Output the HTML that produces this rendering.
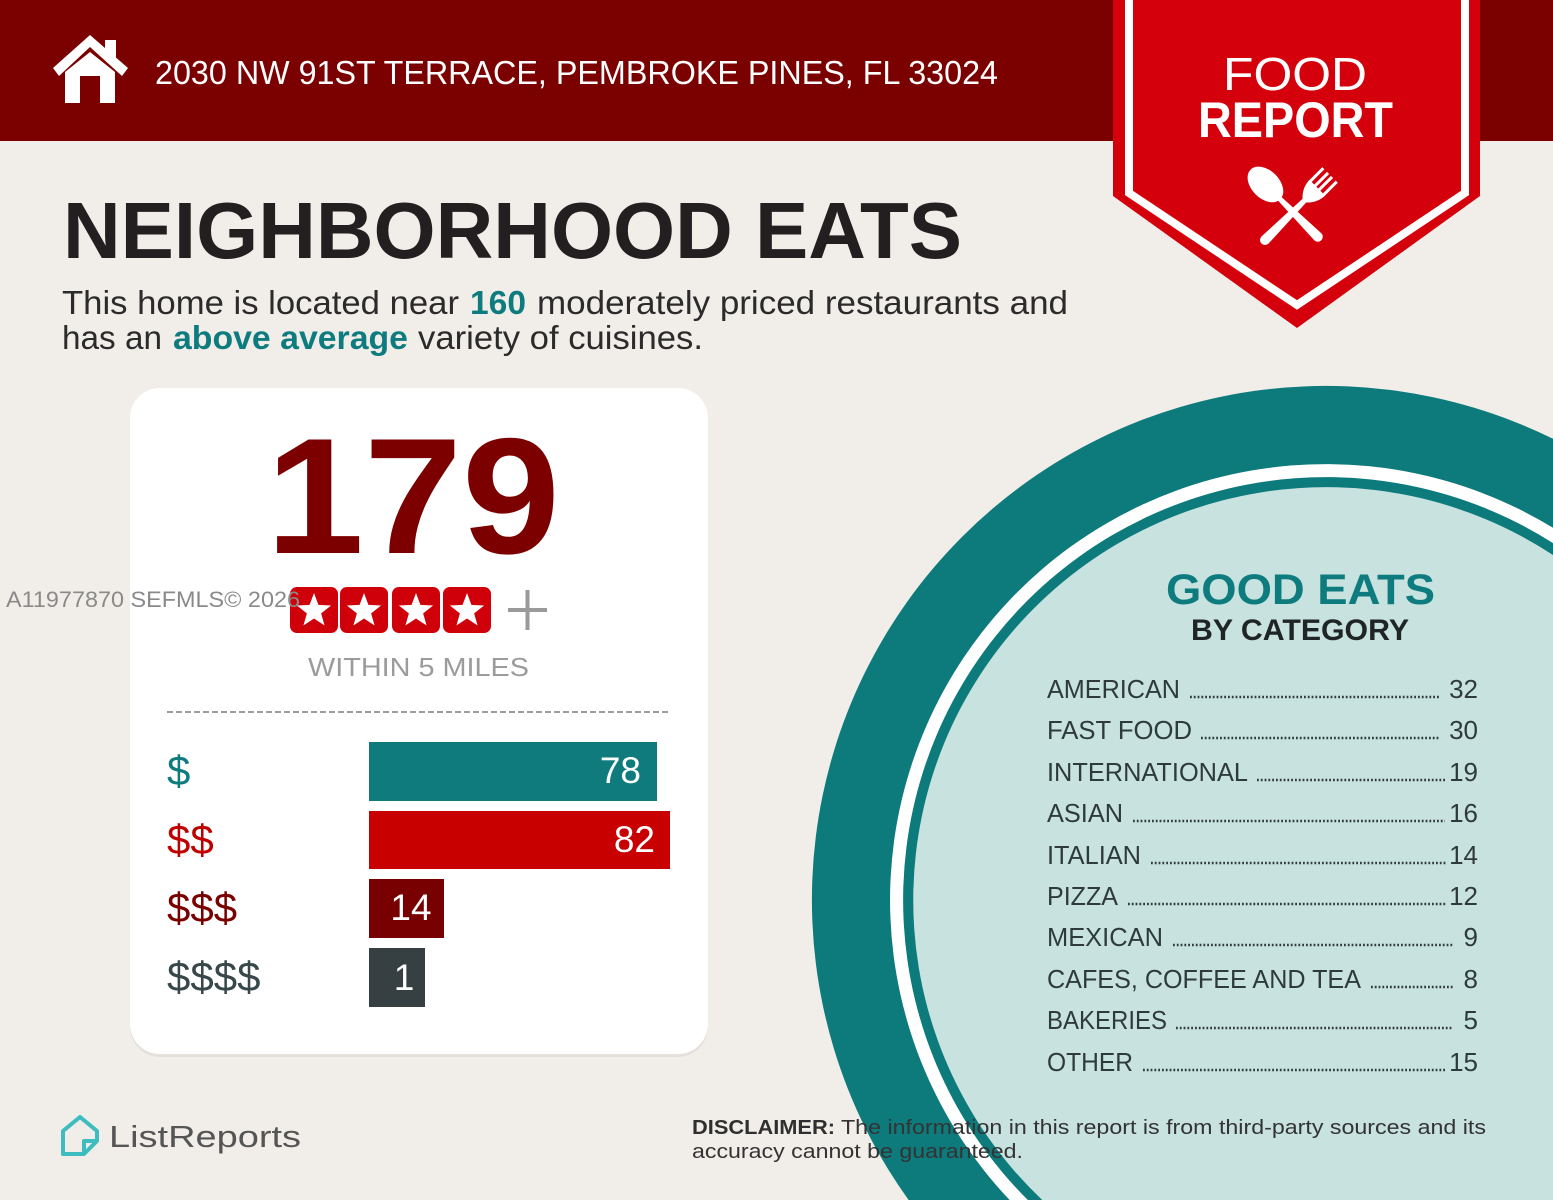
<!DOCTYPE html>
<html><head><meta charset="utf-8"><style>
html,body{margin:0;padding:0;background:#f1eeea;width:1553px;height:1200px;overflow:hidden;}
svg{display:block;}
text{font-family:"Liberation Sans",Arial,sans-serif;}
</style></head><body>
<svg width="1553" height="1200" viewBox="0 0 1553 1200" xmlns="http://www.w3.org/2000/svg">
<rect x="0" y="0" width="1553" height="1200" fill="#f1eeea"/>
<!-- header -->
<rect x="0" y="0" width="1553" height="141" fill="#7b0000"/>
<!-- house icon -->
<rect x="105" y="40" width="11" height="20" fill="#fff"/>
<polygon points="53,68 90,35 128,68 122,76 90,47 59,76" fill="#fff"/>
<path d="M65,72 L90,52 L115,72 L115,103 L100,103 L100,76 L80,76 L80,103 L65,103 Z" fill="#fff"/>
<text x="155" y="84" font-size="33" fill="#fff" textLength="843" lengthAdjust="spacingAndGlyphs">2030 NW 91ST TERRACE, PEMBROKE PINES, FL 33024</text>

<!-- badge -->
<polygon points="1113,0 1480,0 1480,196 1297,328 1113,196" fill="#d4000b"/>
<polyline points="1129,0 1129,193 1297,305 1465,193 1465,0" fill="none" stroke="#fff" stroke-width="8" stroke-linejoin="miter"/>
<text x="1223" y="90" font-size="46" fill="#fff" textLength="144" lengthAdjust="spacingAndGlyphs">FOOD</text>
<text x="1198" y="137" font-size="50" font-weight="bold" fill="#fff" textLength="195" lengthAdjust="spacingAndGlyphs">REPORT</text>
<!-- spoon -->
<g transform="translate(1281,200) rotate(-45)" fill="#fff">
  <ellipse cx="0" cy="-22" rx="14" ry="21"/>
  <path d="M-2.5,-2 L-5,52 A5,5 0 0 0 5,52 L2.5,-2 Z"/>
</g>
<!-- fork -->
<g transform="translate(1306,199) rotate(45)" fill="#fff">
  <path d="M-2.5,0 L-5,58 A5,5 0 0 0 5,58 L2.5,0 Z"/>
  <path d="M-3,2 Q-11,-6 -11,-16 L11,-16 Q11,-6 3,2 Z"/>
  <rect x="-11" y="-34" width="3" height="20"/>
  <rect x="-4.3" y="-34" width="3" height="20"/>
  <rect x="1.3" y="-34" width="3" height="20"/>
  <rect x="8" y="-34" width="3" height="20"/>
</g>

<!-- title -->
<text x="63" y="258" font-size="80" font-weight="bold" fill="#231f20" textLength="899" lengthAdjust="spacingAndGlyphs">NEIGHBORHOOD EATS</text>
<text x="62" y="314" font-size="33" fill="#2b2b2b" textLength="397" lengthAdjust="spacingAndGlyphs">This home is located near</text>
<text x="470" y="314" font-size="33" font-weight="bold" fill="#0e7c7e" textLength="56" lengthAdjust="spacingAndGlyphs">160</text>
<text x="537" y="314" font-size="33" fill="#2b2b2b" textLength="531" lengthAdjust="spacingAndGlyphs">moderately priced restaurants and</text>
<text x="62" y="349" font-size="33" fill="#2b2b2b" textLength="100" lengthAdjust="spacingAndGlyphs">has an</text>
<text x="173" y="349" font-size="33" font-weight="bold" fill="#0e7c7e" textLength="235" lengthAdjust="spacingAndGlyphs">above average</text>
<text x="418" y="349" font-size="33" fill="#2b2b2b" textLength="285" lengthAdjust="spacingAndGlyphs">variety of cuisines.</text>

<!-- card -->
<rect x="130" y="391" width="578" height="666" rx="30" fill="#e4e1dd"/>
<rect x="130" y="388" width="578" height="666" rx="30" fill="#ffffff"/>
<text x="266" y="553" font-size="165" font-weight="bold" fill="#7d0000" textLength="294" lengthAdjust="spacingAndGlyphs">179</text>

<!-- stars -->
<g fill="#d0000b">
  <rect x="290" y="587" width="48" height="46" rx="7"/>
  <rect x="340" y="587" width="48" height="46" rx="7"/>
  <rect x="392" y="587" width="48" height="46" rx="7"/>
  <rect x="443" y="587" width="48" height="46" rx="7"/>
</g>
<g fill="#fff">
  <polygon transform="translate(314,611)" points="0,-18 4.41,-6.07 17.12,-5.56 7.13,2.32 10.58,14.56 0,7.5 -10.58,14.56 -7.13,2.32 -17.12,-5.56 -4.41,-6.07"/>
  <polygon transform="translate(364,611)" points="0,-18 4.41,-6.07 17.12,-5.56 7.13,2.32 10.58,14.56 0,7.5 -10.58,14.56 -7.13,2.32 -17.12,-5.56 -4.41,-6.07"/>
  <polygon transform="translate(416,611)" points="0,-18 4.41,-6.07 17.12,-5.56 7.13,2.32 10.58,14.56 0,7.5 -10.58,14.56 -7.13,2.32 -17.12,-5.56 -4.41,-6.07"/>
  <polygon transform="translate(467,611)" points="0,-18 4.41,-6.07 17.12,-5.56 7.13,2.32 10.58,14.56 0,7.5 -10.58,14.56 -7.13,2.32 -17.12,-5.56 -4.41,-6.07"/>
</g>
<line x1="508" y1="610" x2="547" y2="610" stroke="#9a9a9a" stroke-width="4"/>
<line x1="527.5" y1="590" x2="527.5" y2="630" stroke="#9a9a9a" stroke-width="4"/>

<text x="6" y="607" font-size="22" fill="#8a8a8a" textLength="294" lengthAdjust="spacingAndGlyphs">A11977870  SEFMLS© 2026</text>

<text x="308" y="676" font-size="26" fill="#9b9b9b" textLength="221" lengthAdjust="spacingAndGlyphs">WITHIN 5 MILES</text>
<line x1="167" y1="712" x2="670" y2="712" stroke="#9d9d9d" stroke-width="2" stroke-dasharray="6 3"/>

<!-- bars -->
<rect x="369" y="742" width="288" height="59" fill="#0f7b7d"/>
<rect x="369" y="811" width="301" height="58" fill="#c80000"/>
<rect x="369" y="879" width="75" height="59" fill="#780000"/>
<rect x="369" y="948" width="56" height="59" fill="#363f42"/>
<text x="641" y="783" font-size="37" fill="#fff" text-anchor="end">78</text>
<text x="655" y="852" font-size="37" fill="#fff" text-anchor="end">82</text>
<text x="411" y="920" font-size="37" fill="#fff" text-anchor="middle">14</text>
<text x="404" y="990" font-size="37" fill="#fff" text-anchor="middle">1</text>
<text x="167" y="785" font-size="42" fill="#0e7c7e">$</text>
<text x="167" y="854" font-size="42" fill="#c00000">$$</text>
<text x="167" y="922" font-size="42" fill="#7a0000">$$$</text>
<text x="167" y="991" font-size="42" fill="#37474a">$$$$</text>

<!-- circle (clipped to frame as paths) -->
<path d="M1553,438.8 A514,514 0 0 0 908.6,1200 L1553,1200 Z" fill="#0d7a7c"/>
<path d="M1553,527.8 A436,436 0 0 0 1009.6,1200 L1553,1200 Z" fill="#ffffff"/>
<path d="M1553,543.1 A423,423 0 0 0 1027.8,1200 L1553,1200 Z" fill="#0d7a7c"/>
<path d="M1553,555.0 A413,413 0 0 0 1042.2,1200 L1553,1200 Z" fill="#c7e2df"/>

<text x="1166" y="604" font-size="43" font-weight="bold" fill="#0e7c7e" textLength="269" lengthAdjust="spacingAndGlyphs">GOOD EATS</text>
<text x="1191" y="640" font-size="30" font-weight="bold" fill="#1f2424" textLength="218" lengthAdjust="spacingAndGlyphs">BY CATEGORY</text>

<g font-size="26" fill="#2f3b3b">
  <text x="1047" y="698" textLength="133" lengthAdjust="spacingAndGlyphs">AMERICAN</text>
  <text x="1478" y="698" text-anchor="end">32</text>
  <text x="1047" y="739" textLength="145" lengthAdjust="spacingAndGlyphs">FAST FOOD</text>
  <text x="1478" y="739" text-anchor="end">30</text>
  <text x="1047" y="781" textLength="201" lengthAdjust="spacingAndGlyphs">INTERNATIONAL</text>
  <text x="1478" y="781" text-anchor="end">19</text>
  <text x="1047" y="822" textLength="76" lengthAdjust="spacingAndGlyphs">ASIAN</text>
  <text x="1478" y="822" text-anchor="end">16</text>
  <text x="1047" y="864" textLength="94" lengthAdjust="spacingAndGlyphs">ITALIAN</text>
  <text x="1478" y="864" text-anchor="end">14</text>
  <text x="1047" y="905" textLength="71" lengthAdjust="spacingAndGlyphs">PIZZA</text>
  <text x="1478" y="905" text-anchor="end">12</text>
  <text x="1047" y="946" textLength="116" lengthAdjust="spacingAndGlyphs">MEXICAN</text>
  <text x="1478" y="946" text-anchor="end">9</text>
  <text x="1047" y="988" textLength="314" lengthAdjust="spacingAndGlyphs">CAFES, COFFEE AND TEA</text>
  <text x="1478" y="988" text-anchor="end">8</text>
  <text x="1047" y="1029" textLength="120" lengthAdjust="spacingAndGlyphs">BAKERIES</text>
  <text x="1478" y="1029" text-anchor="end">5</text>
  <text x="1047" y="1071" textLength="86" lengthAdjust="spacingAndGlyphs">OTHER</text>
  <text x="1478" y="1071" text-anchor="end">15</text>
</g>
<g stroke="#2f3b3b" stroke-width="2.4" stroke-dasharray="1.8 2">
  <line x1="1190" y1="697" x2="1440" y2="697"/>
  <line x1="1201" y1="738" x2="1439" y2="738"/>
  <line x1="1257" y1="780" x2="1445" y2="780"/>
  <line x1="1133" y1="821" x2="1445" y2="821"/>
  <line x1="1151" y1="863" x2="1446" y2="863"/>
  <line x1="1128" y1="904" x2="1446" y2="904"/>
  <line x1="1173" y1="945" x2="1453" y2="945"/>
  <line x1="1371" y1="987" x2="1453" y2="987"/>
  <line x1="1176" y1="1028" x2="1453" y2="1028"/>
  <line x1="1143" y1="1070" x2="1446" y2="1070"/>
</g>

<!-- footer -->
<g fill="none" stroke="#3dbdbf" stroke-width="4" stroke-linejoin="round">
  <path d="M63,1131 L80,1117 L97,1131 L97,1141 L84,1154 L63,1154 Z"/>
  <path d="M84,1154 L84,1141 L97,1141"/>
</g>
<text x="109" y="1147" font-size="31" fill="#555555" textLength="192" lengthAdjust="spacingAndGlyphs">ListReports</text>

<text x="692" y="1134" font-size="20" font-weight="bold" fill="#2f2f2f" textLength="143" lengthAdjust="spacingAndGlyphs">DISCLAIMER:</text>
<text x="841" y="1134" font-size="20" fill="#333" textLength="645" lengthAdjust="spacingAndGlyphs">The information in this report is from third-party sources and its</text>
<text x="692" y="1158" font-size="20" fill="#333" textLength="331" lengthAdjust="spacingAndGlyphs">accuracy cannot be guaranteed.</text>
</svg>
</body></html>
